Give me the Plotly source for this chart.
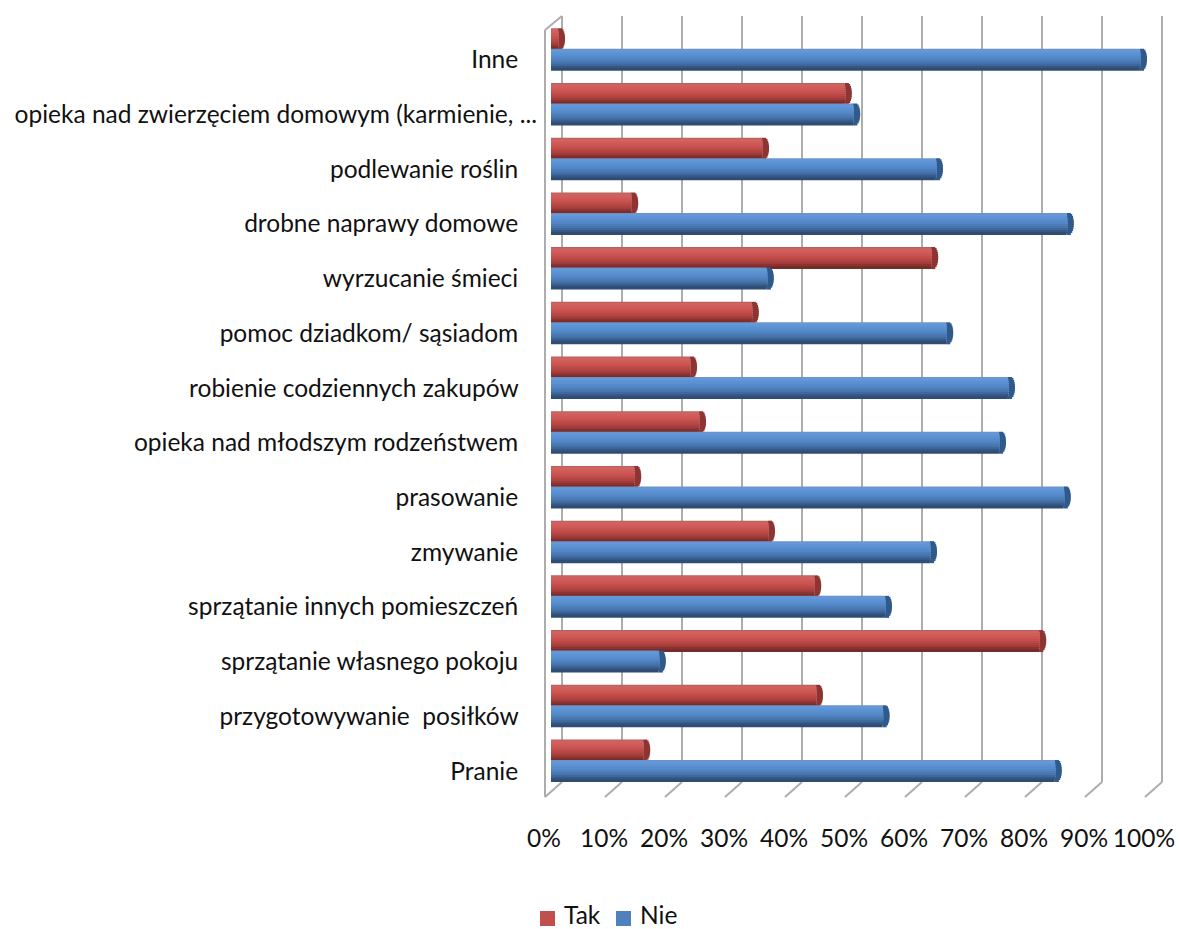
import plotly.graph_objects as go

W, H = 1179, 929
NB = "\u00a0"
categories = ["Pranie", "przygotowywanie posiłków", "sprzątanie własnego pokoju",
              "sprzątanie innych pomieszczeń", "zmywanie", "prasowanie",
              "opieka nad młodszym rodzeństwem", "robienie codziennych zakupów",
              "pomoc dziadkom/ sąsiadom", "wyrzucanie śmieci", "drobne naprawy domowe",
              "podlewanie roślin", "opieka nad zwierzęciem domowym (karmienie, ...", "Inne"]
tick_labels = ["Pranie", "przygotowywanie" + NB + NB + "posiłków", "sprzątanie" + NB + "własnego" + NB + "pokoju",
               "sprzątanie" + NB + "innych pomieszczeń", "zmywanie", "prasowanie",
               "opieka" + NB + "nad" + NB + "młodszym" + NB + "rodzeństwem", "robienie codziennych zakupów",
               "pomoc dziadkom/" + NB + "sąsiadom", "wyrzucanie śmieci", "drobne naprawy domowe",
               "podlewanie roślin", "opieka nad" + NB + "zwierzęciem domowym" + NB + "(karmienie, ...", "Inne"]
tak = [15.7, 44.5, 81.7, 44.2, 36.5, 14.2, 25.0, 23.5, 33.8, 63.7, 13.7, 35.5, 49.3, 1.5]
nie = [84.3, 55.6, 18.3, 56.0, 63.5, 85.8, 75.0, 76.5, 66.2, 36.3, 86.3, 64.5, 50.7, 98.5]
percent_ticks = list(range(0, 101, 10))
legend_names = ["Tak", "Nie"]
legend_colors = ["#C0504D", "#4F81BD"]

red_shades = ["#B9605D", "#CE6461", "#D15E5B", "#CF5956", "#CA5451", "#C34E4B", "#BA4946", "#AF4340", "#A13C3A", "#8C3331", "#772C2A"]
blue_shades = ["#6C93C4", "#6498D8", "#5E94D6", "#5A90D2", "#568BCB", "#5285C3", "#4D7DB9", "#4674AC", "#3F689B", "#365886", "#2F4C73"]
red_cap = "#8E3533"
blue_cap = "#2F5A8C"

PX_PER_CAT = 54.7
PX_PER_PCT = 6.0
BASE_PX = -5.0            # bars start 5 px left of the 0 position of their axis
base = BASE_PX / PX_PER_PCT
strip_px = 2.0
overlap_px = 1.0

fig = go.Figure()

# carriers so that the gridline and label axes exist
fig.add_trace(go.Scatter(x=percent_ticks, y=[0.5] * len(percent_ticks), mode="markers",
                         marker=dict(opacity=0), showlegend=False, hoverinfo="skip",
                         xaxis="x", yaxis="y"))
fig.add_trace(go.Scatter(x=percent_ticks, y=[0.5] * len(percent_ticks), mode="markers",
                         marker=dict(opacity=0), showlegend=False, hoverinfo="skip",
                         xaxis="x2", yaxis="y2"))


def add_series(values, shades, cap, low_px):
    n = len(shades)
    for i, color in enumerate(shades):
        offset_px = low_px + (n - 1 - i) * strip_px
        height_px = strip_px + (overlap_px if i > 0 else 0)
        t = (i + 0.5) / n * 2 - 1
        bow = (1 - t * t) ** 0.5
        inset = (1 - bow) * 5.0 / PX_PER_PCT
        ends = [v - inset for v in values]
        cap_start = [max(base, e - 0.45 - bow * 0.6) for e in ends]
        fig.add_trace(go.Bar(
            y=categories, x=[c - base for c in cap_start], base=base, orientation="h",
            width=height_px / PX_PER_CAT, offset=offset_px / PX_PER_CAT,
            marker=dict(color=color, line_width=0), showlegend=False, hoverinfo="skip",
            xaxis="x3", yaxis="y3",
        ))
        fig.add_trace(go.Bar(
            y=categories, x=[e - c for e, c in zip(ends, cap_start)], base=cap_start, orientation="h",
            width=height_px / PX_PER_CAT, offset=offset_px / PX_PER_CAT,
            marker=dict(color=cap, line_width=0), showlegend=False, hoverinfo="skip",
            xaxis="x3", yaxis="y3",
        ))


add_series(tak, red_shades, red_cap, 9.5)
add_series(nie, blue_shades, blue_cap, -11.0)

FONT = dict(family="Lato, Carlito, sans-serif", size=24.5, color="#111111")
grid = "#ADADAD"


def dom(a, b, size):
    return [a / size, b / size]


def ydom(top, bottom):
    return [(H - bottom) / H, (H - top) / H]


fig.update_layout(
    width=W, height=H, autosize=False,
    margin=dict(l=0, r=0, t=0, b=0, autoexpand=False),
    paper_bgcolor="white", plot_bgcolor="rgba(0,0,0,0)",
    barmode="overlay", font=FONT,
    showlegend=False,
    # back-wall gridlines (range padded so the 0 and 100 lines are drawn)
    xaxis=dict(domain=dom(556, 1168, W), range=[-1, 101], tickmode="array", tickvals=percent_ticks,
               showgrid=True, gridcolor=grid, gridwidth=2, showline=False, zeroline=False,
               showticklabels=False, ticks="", anchor="y"),
    yaxis=dict(domain=ydom(16, 782), range=[0, 1], visible=False, anchor="x"),
    # front axis with the labels
    xaxis2=dict(domain=dom(544, 1144, W), range=[0, 100], tickmode="array", tickvals=percent_ticks,
                ticktext=[f"{p}%" for p in percent_ticks], tickfont=FONT, showgrid=False,
                showline=False, zeroline=False, ticks="", ticklabelstandoff=23, anchor="y2"),
    yaxis2=dict(domain=ydom(780, 798), range=[0, 1], visible=False, anchor="x2"),
    # bars
    xaxis3=dict(domain=dom(544, 1156, W), range=[-2, 100], visible=False, anchor="y3"),
    yaxis3=dict(domain=ydom(16, 798.35), range=[-0.5, 13.8], type="category",
                categoryorder="array", categoryarray=categories,
                tickmode="array", tickvals=categories,
                ticktext=[t + NB * 3 for t in tick_labels[:12]] + [tick_labels[12]] + [tick_labels[13] + NB * 3],
                showgrid=False, showline=False, zeroline=False, ticks="", ticklabelstandoff=6,
                tickfont=FONT, anchor="x3"),
)

line = dict(color=grid, width=2)
shapes = []
for p in percent_ticks:
    shapes.append(dict(type="line", xref="paper", yref="paper",
                       x0=(562 + 6 * p) / W, y0=(H - 782) / H,
                       x1=(545 + 6 * p) / W, y1=(H - 797) / H, line=line, layer="below"))
shapes.append(dict(type="line", xref="paper", yref="paper", x0=545 / W, y0=(H - 30) / H,
                   x1=545 / W, y1=(H - 797) / H, line=line, layer="below"))
shapes.append(dict(type="line", xref="paper", yref="paper", x0=545 / W, y0=(H - 30) / H,
                   x1=562 / W, y1=(H - 16) / H, line=line, layer="below"))
annotations = []
for name, color, sq_x in zip(legend_names, legend_colors, [540, 616]):
    shapes.append(dict(type="rect", xref="paper", yref="paper", x0=sq_x / W, x1=(sq_x + 15) / W,
                       y0=(H - 926) / H, y1=(H - 911) / H, fillcolor=color, line_width=0))
    annotations.append(dict(xref="paper", yref="paper", x=(sq_x + 22) / W, y=(H - 914) / H,
                            xanchor="left", yanchor="middle", text=name, showarrow=False, font=FONT))
fig.update_layout(shapes=shapes, annotations=annotations)

fig.write_html("out.html", config=dict(displayModeBar=False),
               post_script="document.body.style.margin='0';")
